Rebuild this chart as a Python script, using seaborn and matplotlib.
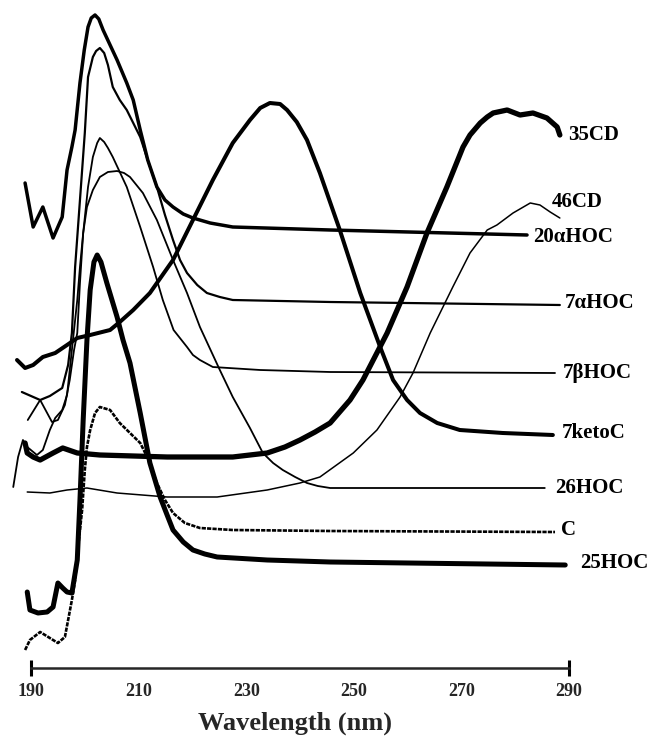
import matplotlib
matplotlib.use("Agg")
import matplotlib.pyplot as plt
import matplotlib.ticker as mticker
import seaborn as sns
import pandas as pd

# ---- data: wavelength (nm) and offset absorbance (a.u.) ----
wl_35CD = [188.9, 189.3, 190.4, 191.7, 194.1, 195.9, 198.6, 202.8, 215.3, 227.5, 233.9, 237.2, 240.0, 242.8,
           245.6, 249.3, 251.7, 256.2, 259.9, 263.6, 267.3, 270.3, 271.6, 273.5, 274.8, 275.9, 278.5, 280.9,
           283.3, 285.9, 287.8, 288.3]
ab_35CD = [2.25, 2.15, 2.11, 2.08, 2.15, 2.20, 2.15, 2.13, 2.11, 2.11, 2.15, 2.21, 2.28, 2.36,
           2.45, 2.68, 2.88, 3.35, 3.81, 4.35, 4.81, 5.21, 5.33, 5.45, 5.51, 5.55, 5.58, 5.53,
           5.55, 5.50, 5.41, 5.33]

wl_46CD = [189.3, 193.5, 196.7, 200.4, 206.0, 215.3, 224.6, 233.9, 240.0, 243.7, 249.9, 254.3, 258.6,
           261.0, 264.2, 268.4, 271.6, 274.8, 276.6, 279.6, 282.8, 284.6, 286.5, 288.3]
ab_46CD = [1.76, 1.75, 1.78, 1.80, 1.75, 1.71, 1.71, 1.78, 1.85, 1.91, 2.15, 2.38, 2.71,
           2.95, 3.35, 3.81, 4.15, 4.38, 4.43, 4.55, 4.65, 4.63, 4.56, 4.50]

wl_20aHOC = [188.9, 190.4, 192.2, 194.1, 195.8, 196.7, 197.6, 198.2, 199.1, 199.9, 200.6, 201.2, 201.9,
             202.6, 203.4, 204.7, 206.0, 207.8, 209.0, 210.3, 211.7, 213.4, 214.9, 216.4, 218.3, 220.1,
             223.3, 227.5, 245.6, 282.2]
ab_20aHOC = [4.85, 4.41, 4.61, 4.30, 4.51, 4.98, 5.21, 5.38, 5.85, 6.18, 6.41, 6.50, 6.53,
             6.49, 6.38, 6.23, 6.08, 5.85, 5.68, 5.38, 5.08, 4.81, 4.68, 4.61, 4.54, 4.50,
             4.45, 4.41, 4.38, 4.33]

wl_7aHOC = [188.3, 191.7, 193.5, 195.8, 196.9, 197.6, 198.2, 199.1, 200.0, 200.6, 201.5, 202.1, 202.8,
            203.6, 204.3, 205.2, 206.5, 207.8, 210.3, 211.7, 213.4, 214.9, 216.4, 217.7, 219.0, 220.9,
            222.7, 225.1, 227.5, 245.6, 288.3]
ab_7aHOC = [2.76, 2.68, 2.72, 2.80, 3.03, 3.35, 4.01, 4.68, 5.35, 5.91, 6.11, 6.17, 6.20,
            6.15, 6.03, 5.81, 5.68, 5.58, 5.31, 5.08, 4.81, 4.53, 4.28, 4.08, 3.95, 3.83,
            3.75, 3.71, 3.68, 3.66, 3.63]

wl_7bHOC = [189.4, 191.7, 193.9, 195.0, 196.3, 197.2, 198.0, 198.6, 199.1, 199.7, 200.6, 201.5, 202.3,
            202.8, 203.6, 204.3, 205.2, 207.8, 210.3, 212.7, 214.5, 216.5, 219.0, 220.1, 221.4, 223.8,
            232.6, 245.6, 287.4]
ab_7bHOC = [2.48, 2.68, 2.46, 2.48, 2.63, 2.88, 3.18, 3.35, 3.85, 4.35, 4.81, 5.11, 5.25,
            5.30, 5.26, 5.20, 5.11, 4.81, 4.41, 4.01, 3.68, 3.38, 3.21, 3.13, 3.08, 3.01,
            2.98, 2.96, 2.95]

wl_7ketoC = [187.4, 188.9, 190.4, 192.2, 194.5, 196.7, 198.6, 201.0, 204.7, 206.5, 209.0, 212.1, 216.4,
             220.1, 223.8, 227.5, 230.7, 232.6, 234.4, 236.3, 237.6, 239.4, 241.3, 243.7, 247.4, 251.2,
             254.9, 257.3, 259.9, 262.3, 265.5, 269.7, 277.7, 287.0]
ab_7ketoC = [3.08, 3.00, 3.03, 3.11, 3.15, 3.23, 3.30, 3.33, 3.38, 3.46, 3.58, 3.75, 4.08,
             4.48, 4.88, 5.25, 5.48, 5.60, 5.65, 5.64, 5.58, 5.46, 5.28, 4.95, 4.38, 3.75,
             3.21, 2.88, 2.68, 2.55, 2.45, 2.38, 2.35, 2.33]

wl_26HOC = [186.7, 187.6, 188.5, 189.3, 191.1, 192.2, 193.5, 194.5, 195.8, 196.7, 197.6, 198.6, 199.1,
            199.7, 200.4, 201.5, 202.8, 204.3, 206.0, 207.3, 208.4, 210.8, 213.4, 216.4, 219.0, 221.4,
            225.1, 227.5, 230.7, 233.1, 235.0, 236.8, 239.1, 241.3, 243.3, 245.6, 285.5]
ab_26HOC = [1.81, 2.11, 2.28, 2.21, 2.13, 2.18, 2.38, 2.50, 2.58, 2.73, 3.18, 3.68, 4.01,
            4.35, 4.61, 4.78, 4.91, 4.96, 4.97, 4.95, 4.91, 4.75, 4.48, 4.08, 3.75, 3.41,
            2.98, 2.71, 2.40, 2.15, 2.05, 1.98, 1.91, 1.85, 1.82, 1.80, 1.80]

wl_C = [188.9, 189.8, 191.7, 193.5, 195.0, 196.3, 196.9, 197.6, 198.2, 198.7, 199.5, 200.0, 200.4,
        201.0, 201.9, 202.8, 204.7, 206.5, 208.4, 210.3, 211.6, 213.4, 214.9, 216.4, 218.6, 221.4,
        227.5, 245.6, 287.4]
ab_C = [0.18, 0.28, 0.36, 0.30, 0.25, 0.31, 0.48, 0.68, 0.88, 1.18, 1.58, 1.98, 2.21,
        2.38, 2.55, 2.61, 2.58, 2.45, 2.35, 2.25, 2.11, 1.85, 1.68, 1.55, 1.45, 1.40,
        1.38, 1.37, 1.36]

wl_25HOC = [189.3, 189.8, 191.3, 193.0, 194.1, 195.0, 195.9, 196.7, 197.6, 198.6, 199.1, 199.7, 200.4,
            201.0, 201.7, 202.3, 203.0, 204.1, 206.0, 207.1, 208.4, 210.3, 212.1, 214.0, 215.3, 216.4,
            218.3, 220.1, 222.3, 224.6, 233.9, 245.6, 289.3]
ab_25HOC = [0.76, 0.58, 0.55, 0.56, 0.61, 0.85, 0.80, 0.76, 0.75, 1.08, 1.68, 2.48, 3.28,
            3.78, 4.06, 4.13, 4.06, 3.85, 3.51, 3.28, 3.05, 2.55, 2.05, 1.71, 1.53, 1.38,
            1.26, 1.18, 1.14, 1.11, 1.08, 1.06, 1.03]

compounds = ["35CD", "46CD", "20\u03b1HOC", "7\u03b1HOC", "7\u03b2HOC", "7ketoC", "26HOC", "C", "25HOC"]
wavelengths = [wl_35CD, wl_46CD, wl_20aHOC, wl_7aHOC, wl_7bHOC, wl_7ketoC, wl_26HOC, wl_C, wl_25HOC]
absorbances = [ab_35CD, ab_46CD, ab_20aHOC, ab_7aHOC, ab_7bHOC, ab_7ketoC, ab_26HOC, ab_C, ab_25HOC]

tick_values = [190, 200, 210, 220, 230, 240, 250, 260, 270, 280, 290]
tick_labels = ["190", "", "210", "", "230", "", "250", "", "270", "", "290"]
x_label = "Wavelength (nm)"

# ---- styling (not data) ----
line_widths = {"35CD": 3.8, "46CD": 1.1, "20\u03b1HOC": 2.5, "7\u03b1HOC": 1.6, "7\u03b2HOC": 1.3,
               "7ketoC": 2.9, "26HOC": 1.3, "C": 1.9, "25HOC": 3.6}
line_dashes = {"C": (1.6, 0.45)}
label_offsets = {"35CD": (8, 0), "46CD": (-8, 16), "20\u03b1HOC": (6, -2), "7\u03b1HOC": (5, 2),
                 "7\u03b2HOC": (8, 0), "7ketoC": (9, 2), "26HOC": (10, 0), "C": (6, 2), "25HOC": (15, 2)}

frames = []
for name, wl, ab in zip(compounds, wavelengths, absorbances):
    frames.append(pd.DataFrame({"wavelength": wl, "absorbance": ab, "compound": name}))
df = pd.concat(frames, ignore_index=True)

sns.set_style("white")
plt.rcParams["font.family"] = ["Liberation Serif", "DejaVu Serif"]
plt.rcParams["font.weight"] = "bold"

fig = plt.figure(figsize=(6.49, 7.42), dpi=100)
ax = fig.add_axes([0.0, 74 / 742, 1.0, 668 / 742])

for name in compounds:
    sub = df[df["compound"] == name]
    sns.lineplot(data=sub, x="wavelength", y="absorbance", ax=ax, color="black",
                 linewidth=line_widths[name], estimator=None, sort=False,
                 solid_joinstyle="round", solid_capstyle="round", legend=False)
    if name in line_dashes:
        ax.lines[-1].set_dashes(line_dashes[name])
    dx, dy = label_offsets[name]
    ax.annotate(name, xy=(sub["wavelength"].iloc[-1], sub["absorbance"].iloc[-1]),
                xytext=(dx, dy), textcoords="offset pixels", ha="left", va="center",
                fontsize=15, fontweight="bold", color="black")

ax.set_xlim(190 - 31 / 5.38, 190 + (649 - 31) / 5.38)
ax.set_ylim(0, 6.68)

for s in ["top", "left", "right"]:
    ax.spines[s].set_visible(False)
ax.spines["bottom"].set_bounds(tick_values[0], tick_values[-1])
ax.spines["bottom"].set_linewidth(1.8)
ax.set_yticks([])
ax.set_ylabel("")

ax.xaxis.set_major_locator(mticker.FixedLocator(tick_values))
ax.xaxis.set_major_formatter(mticker.FixedFormatter(tick_labels))
ax.xaxis.set_minor_locator(mticker.MultipleLocator(2))
ax.tick_params(axis="x", which="major", direction="out", length=5, width=1.6, pad=6,
               labelsize=13)
ax.tick_params(axis="x", which="minor", direction="out", length=2.5, width=1.2)
for lab in ax.get_xticklabels():
    lab.set_fontweight("bold")

# end bars of the axis
ax.plot([tick_values[0], tick_values[-1]], [0, 0], ls="none", marker="|", markersize=12,
        markeredgewidth=2.2, color="black", clip_on=False)

ax.set_xlabel(x_label, fontsize=19, fontweight="bold")
ax.xaxis.label.set_va("center")
ax.xaxis.set_label_coords(295 / 649, (19 - 74) / 668)

fig.savefig("out.png", dpi=100)
